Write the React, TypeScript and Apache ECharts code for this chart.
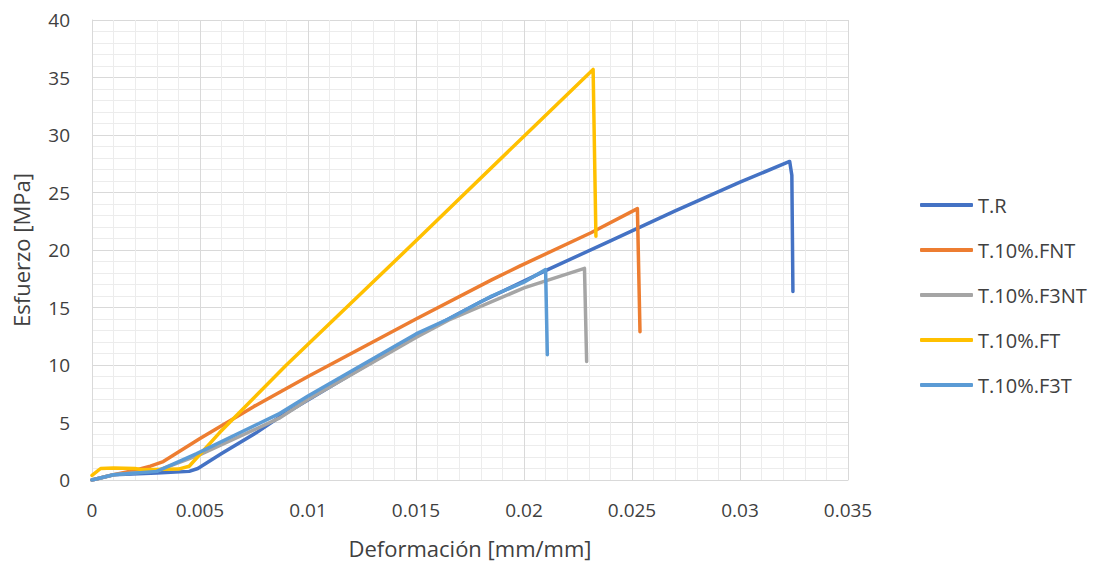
import React, { useEffect, useRef } from "react";
import * as echarts from "echarts";

const seriesNames = ["T.R", "T.10%.FNT", "T.10%.F3NT", "T.10%.FT", "T.10%.F3T"];
const seriesColors = ["#4472C4", "#ED7D31", "#A5A5A5", "#FFC000", "#5B9BD5"];

const trX = [0, 0.001, 0.003, 0.0045, 0.0049, 0.006, 0.0076, 0.0087, 0.012, 0.015, 0.018, 0.021, 0.024, 0.027, 0.03, 0.0323, 0.0324, 0.03245];
const trY = [0, 0.45, 0.6, 0.75, 1.0, 2.3, 4.1, 5.5, 9.2, 12.5, 15.5, 18.2, 20.8, 23.4, 25.9, 27.7, 26.5, 16.4];

const fntX = [0, 0.001, 0.002, 0.0027, 0.0033, 0.005, 0.0075, 0.01, 0.015, 0.0185, 0.0198, 0.0231, 0.02525, 0.02537];
const fntY = [0, 0.45, 0.85, 1.2, 1.6, 3.6, 6.4, 9.0, 14.0, 17.4, 18.6, 21.5, 23.6, 12.9];

const f3ntX = [0, 0.001, 0.003, 0.005, 0.0087, 0.01, 0.015, 0.0165, 0.02, 0.0228, 0.0229];
const f3ntY = [0, 0.45, 0.8, 2.2, 5.4, 7.0, 12.4, 13.9, 16.7, 18.4, 10.3];

const ftX = [0, 0.0004, 0.001, 0.002, 0.0023, 0.004, 0.0045, 0.0059, 0.009, 0.015, 0.02, 0.0232, 0.02333];
const ftY = [0.4, 1.0, 1.05, 1.0, 0.9, 0.95, 1.2, 4.1, 10.0, 20.8, 29.9, 35.7, 21.2];

const f3tX = [0, 0.001, 0.003, 0.00485, 0.0087, 0.01, 0.015, 0.0165, 0.0185, 0.02, 0.021, 0.02108];
const f3tY = [0, 0.45, 0.75, 2.3, 5.8, 7.3, 12.7, 14.0, 16.0, 17.2, 18.3, 10.9];

const xTicks = ["0", "0.005", "0.01", "0.015", "0.02", "0.025", "0.03", "0.035"];

const allX = [trX, fntX, f3ntX, ftX, f3tX];
const allY = [trY, fntY, f3ntY, ftY, f3tY];

export default function App() {
  const ref = useRef<HTMLDivElement>(null);
  useEffect(() => {
    if (!ref.current) return;
    const chart = echarts.init(ref.current, undefined, { renderer: "svg" });
    const font = "Open Sans";
    const textColor = "#404040";
    chart.setOption({
      animation: false,
      backgroundColor: "#ffffff",
      grid: { left: 92, right: 246, top: 20, bottom: 86, containLabel: false },
      legend: {
        orient: "vertical",
        top: 190,
        left: 915,
        itemWidth: 53,
        itemHeight: 4,
        itemGap: 25,
        icon: "roundRect",
        textStyle: { fontFamily: font, fontSize: 20, color: textColor },
        data: seriesNames,
      },
      xAxis: {
        type: "value",
        min: 0,
        max: 0.035,
        interval: 0.005,
        name: "Deformación [mm/mm]",
        nameLocation: "middle",
        nameGap: 57,
        nameTextStyle: { fontFamily: font, fontSize: 22, color: textColor },
        axisLine: { show: true, lineStyle: { color: "#d9d9d9", width: 1 } },
        axisTick: { show: false },
        axisLabel: {
          fontFamily: font,
          fontSize: 19,
          color: textColor,
          margin: 20,
          formatter: (v: number) => xTicks[Math.round(v / 0.005)] ?? "",
        },
        splitLine: { show: true, lineStyle: { color: "#d9d9d9", width: 1 } },
        minorTick: { show: false, splitNumber: 5 },
        minorSplitLine: { show: true, lineStyle: { color: "#ececec", width: 1 } },
      },
      yAxis: {
        type: "value",
        min: 0,
        max: 40,
        interval: 5,
        name: "Esfuerzo [MPa]",
        nameLocation: "middle",
        nameGap: 60,
        nameTextStyle: { fontFamily: font, fontSize: 22, color: textColor },
        axisLine: { show: true, lineStyle: { color: "#d9d9d9", width: 1 } },
        axisTick: { show: false },
        axisLabel: { fontFamily: font, fontSize: 19, color: textColor, margin: 22 },
        splitLine: { show: true, lineStyle: { color: "#d9d9d9", width: 1 } },
        minorTick: { show: false, splitNumber: 5 },
        minorSplitLine: { show: true, lineStyle: { color: "#ececec", width: 1 } },
      },
      series: seriesNames.map((name, i) => ({
        name,
        type: "line",
        symbol: "none",
        color: seriesColors[i],
        lineStyle: { width: 3.5, color: seriesColors[i], cap: "round", join: "round" },
        data: allX[i].map((x, j) => [x, allY[i][j]]),
      })),
    });
    return () => chart.dispose();
  }, []);
  return <div ref={ref} style={{ position: "fixed", left: 0, top: 0, width: 1094, height: 566 }} />;
}
